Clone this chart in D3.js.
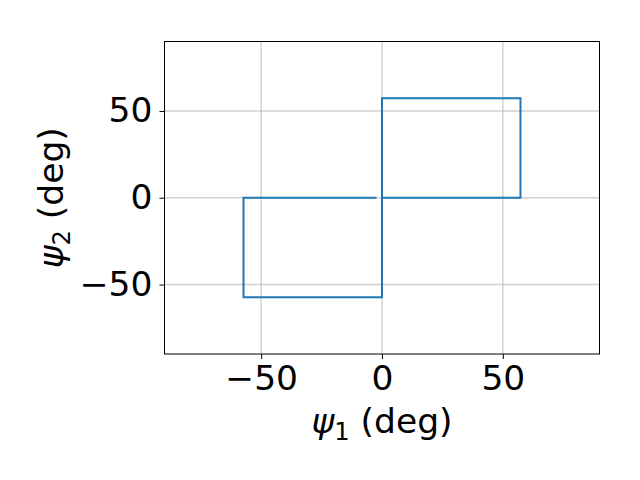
<!DOCTYPE html>
<html><head><meta charset="utf-8">
<script src="https://cdn.jsdelivr.net/npm/d3@7"></script>
<style>body{margin:0;background:#fff}svg{display:block}text{font-family:"DejaVu Sans",sans-serif}</style>
</head><body>
<svg id="c" width="640" height="480"></svg>
<script>
// trajectory (deg)
const psi1 = [0, 0, 57.3, 57.3, 0, 0, -57.3, -57.3, -2.3];
const psi2 = [0, 57.3, 57.3, 0, 0, -57.3, -57.3, 0, 0];
const xTicks = [-50, 0, 50];
const yTicks = [-50, 0, 50];
const xDomain = [-90, 90];
const yDomain = [-90, 90];

const svg = d3.select("#c");
const L = 164.5, R = 599.5, T = 41.5, B = 354;
const x = d3.scaleLinear().domain(xDomain).range([L, R]);
const y = d3.scaleLinear().domain(yDomain).range([B, T]);
const fs = 34.5;

// grid
svg.append("g").selectAll("line").data(xTicks).join("line")
  .attr("x1", d => x(d)).attr("x2", d => x(d)).attr("y1", T).attr("y2", B)
  .attr("stroke", "#b0b0b0").attr("stroke-opacity", 0.6).attr("stroke-width", 1.4);
svg.append("g").selectAll("line").data(yTicks).join("line")
  .attr("y1", d => y(d)).attr("y2", d => y(d)).attr("x1", L).attr("x2", R)
  .attr("stroke", "#b0b0b0").attr("stroke-opacity", 0.6).attr("stroke-width", 1.4);

// data line
const pts = psi1.map((v, i) => [v, psi2[i]]);
svg.append("path").datum(pts)
  .attr("d", d3.line().x(d => x(d[0])).y(d => y(d[1])))
  .attr("fill", "none").attr("stroke", "#1f77b4").attr("stroke-width", 2)
  .attr("stroke-linejoin", "miter").attr("stroke-linecap", "butt");

// axes
const fmt = d => d < 0 ? "\u2212" + Math.abs(d) : String(d);
const xa = svg.append("g").attr("transform", `translate(0,${B})`)
  .call(d3.axisBottom(x).tickValues(xTicks).tickFormat(fmt).tickSize(5).tickPadding(5));
const ya = svg.append("g").attr("transform", `translate(${L},0)`)
  .call(d3.axisLeft(y).tickValues(yTicks).tickFormat(fmt).tickSize(5).tickPadding(7));
[xa, ya].forEach(g => {
  g.select(".domain").remove();
  g.selectAll("line").attr("stroke", "#000").attr("stroke-width", 1);
  g.selectAll("text").attr("font-size", fs).attr("font-family", "DejaVu Sans").attr("fill", "#000");
});
xa.selectAll("text").attr("dy", "0.76em");

// frame
svg.append("rect").attr("x", L).attr("y", T).attr("width", R - L).attr("height", B - T)
  .attr("fill", "none").attr("stroke", "#000").attr("stroke-width", 1);

// labels
function label(t, sub) {
  t.append("tspan").attr("font-style", "italic").text("\u03c8");
  t.append("tspan").attr("font-size", fs * 0.7).attr("dy", 7).text(sub);
  t.append("tspan").attr("dy", -7).text(" (deg)");
}
const xl = svg.append("text").attr("x", x(0)).attr("y", 433)
  .attr("text-anchor", "middle").attr("font-size", fs);
label(xl, "1");
const yl = svg.append("text").attr("transform", `translate(63,${y(0)}) rotate(-90)`)
  .attr("text-anchor", "middle").attr("font-size", fs);
label(yl, "2");
</script>
</body></html>
